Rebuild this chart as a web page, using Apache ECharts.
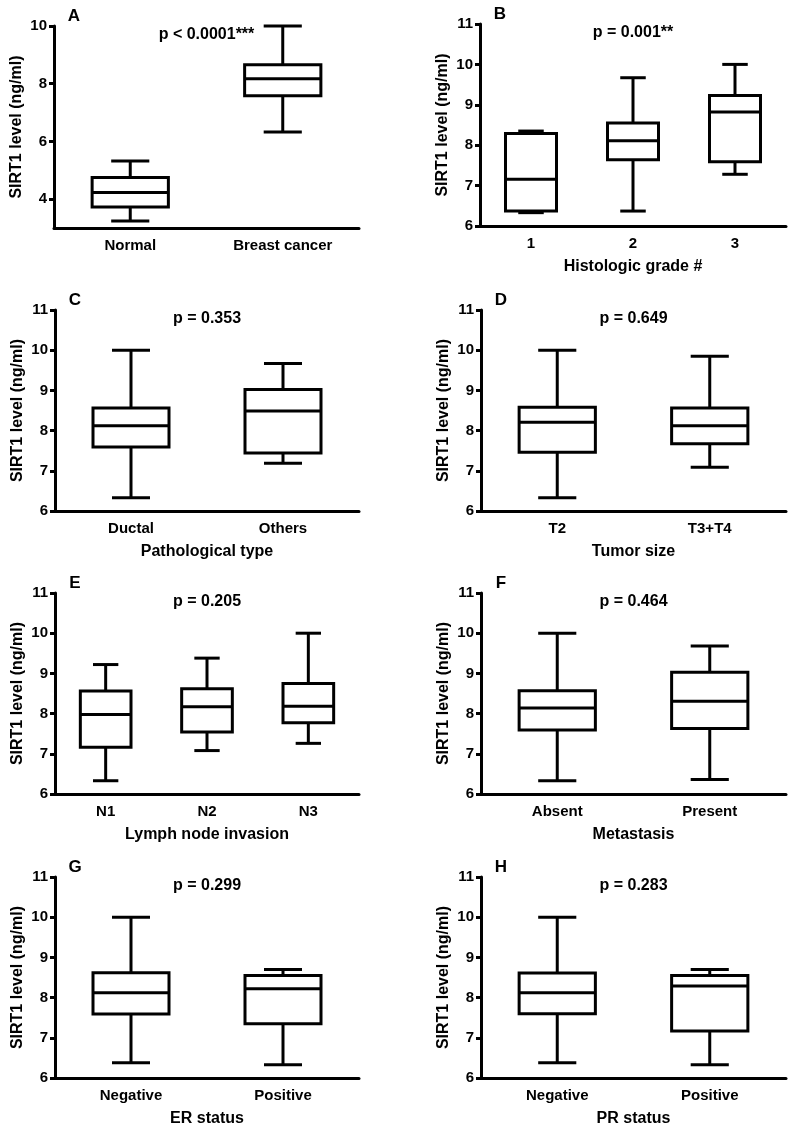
<!DOCTYPE html>
<html><head><meta charset="utf-8">
<script src="https://cdn.jsdelivr.net/npm/echarts@6/dist/echarts.min.js"></script>
<style>html,body{margin:0;padding:0;background:#fff}#c{width:796px;height:1133px}</style>
</head><body><div id="c"></div>
<script>
// ---- data: [min, Q1, median, Q3, max] per category ----
const catA = ['Normal', 'Breast cancer'];
const boxA = [[3.24, 3.73, 4.23, 4.75, 5.32], [6.33, 7.58, 8.17, 8.66, 10.0]];
const catB = ['1', '2', '3'];
const boxB = [[6.33, 6.37, 7.16, 8.29, 8.35], [6.37, 7.64, 8.11, 8.55, 9.67], [7.28, 7.59, 8.82, 9.23, 10.0]];
const catC = ['Ductal', 'Others'];
const boxC = [[6.33, 7.59, 8.12, 8.56, 10.0], [7.19, 7.44, 8.49, 9.02, 9.67]];
const catD = ['T2', 'T3+T4'];
const boxD = [[6.33, 7.46, 8.21, 8.58, 10.0], [7.09, 7.67, 8.12, 8.56, 9.85]];
const catE = ['N1', 'N2', 'N3'];
const boxE = [[6.33, 7.16, 7.98, 8.56, 9.22], [7.08, 7.54, 8.17, 8.62, 9.38], [7.26, 7.77, 8.18, 8.75, 10.0]];
const catF = ['Absent', 'Present'];
const boxF = [[6.33, 7.59, 8.14, 8.57, 10.0], [6.36, 7.63, 8.31, 9.03, 9.68]];
const catG = ['Negative', 'Positive'];
const boxG = [[6.38, 7.59, 8.12, 8.62, 10.0], [6.33, 7.35, 8.22, 8.55, 8.70]];
const catH = ['Negative', 'Positive'];
const boxH = [[6.38, 7.60, 8.12, 8.61, 10.0], [6.33, 7.17, 8.29, 8.55, 8.70]];

const yTicksA = [4, 6, 8, 10];
const yTicksOther = [6, 7, 8, 9, 10, 11];
const yRangeA = [3, 10];
const yRangeOther = [6, 11];

const panelLetters = ['A', 'B', 'C', 'D', 'E', 'F', 'G', 'H'];
const pLabels = ['p < 0.0001***', 'p = 0.001**', 'p = 0.353', 'p = 0.649', 'p = 0.205', 'p = 0.464', 'p = 0.299', 'p = 0.283'];
const xTitles = ['', 'Histologic grade #', 'Pathological type', 'Tumor size', 'Lymph node invasion', 'Metastasis', 'ER status', 'PR status'];
const yTitle = 'SIRT1 level (ng/ml)';

const categories = [catA, catB, catC, catD, catE, catF, catG, catH];
const boxes = [boxA, boxB, boxC, boxD, boxE, boxF, boxG, boxH];

// ---- layout ----
const layout = [
  { left: 54, top: 26, width: 305, height: 202 },
  { left: 480, top: 24, width: 306, height: 202 },
  { left: 55, top: 310, width: 304, height: 201 },
  { left: 481, top: 310, width: 305, height: 201 },
  { left: 55, top: 593, width: 304, height: 201 },
  { left: 481, top: 593, width: 305, height: 201 },
  { left: 55, top: 877, width: 304, height: 201 },
  { left: 481, top: 877, width: 305, height: 201 }
];

const FONT = "'Liberation Sans', Arial, sans-serif";
const LW = 3;

function renderBox(params, api) {
  const idx = api.value(0);
  const lo = api.coord([idx, api.value(1)]);
  const q1 = api.coord([idx, api.value(2)]);
  const med = api.coord([idx, api.value(3)]);
  const q3 = api.coord([idx, api.value(4)]);
  const hi = api.coord([idx, api.value(5)]);
  const band = api.size([1, 0])[0];
  const hw = band * 0.25;
  const cw = band * 0.125;
  const x = lo[0];
  const ls = { stroke: '#000', lineWidth: LW, fill: null };
  return {
    type: 'group',
    children: [
      { type: 'line', shape: { x1: x, y1: q3[1], x2: x, y2: hi[1] }, style: ls },
      { type: 'line', shape: { x1: x, y1: q1[1], x2: x, y2: lo[1] }, style: ls },
      { type: 'line', shape: { x1: x - cw, y1: hi[1], x2: x + cw, y2: hi[1] }, style: ls },
      { type: 'line', shape: { x1: x - cw, y1: lo[1], x2: x + cw, y2: lo[1] }, style: ls },
      { type: 'rect', shape: { x: x - hw, y: q3[1], width: 2 * hw, height: q1[1] - q3[1] },
        style: { fill: '#fff', stroke: '#000', lineWidth: LW, lineJoin: 'miter' } },
      { type: 'line', shape: { x1: x - hw, y1: med[1], x2: x + hw, y2: med[1] }, style: ls }
    ]
  };
}

const grids = [], xAxes = [], yAxes = [], series = [], graphics = [];
for (let i = 0; i < 8; i++) {
  const L = layout[i];
  grids.push({ left: L.left, top: L.top, width: L.width, height: L.height, containLabel: false });
  const isA = i === 0;
  const ticks = isA ? yTicksA : yTicksOther;
  const range = isA ? yRangeA : yRangeOther;
  xAxes.push({
    type: 'category', gridIndex: i, data: categories[i], boundaryGap: true,
    axisLine: { lineStyle: { color: '#000', width: LW } },
    axisTick: { alignWithLabel: true, length: 5, lineStyle: { color: '#000', width: LW } },
    axisLabel: { color: '#000', fontSize: 15, fontWeight: 'bold', fontFamily: FONT, margin: 10, interval: 0 },
    splitLine: { show: false },
    name: xTitles[i], nameLocation: 'middle', nameGap: 33,
    nameTextStyle: { color: '#000', fontSize: 16, fontWeight: 'bold', fontFamily: FONT }
  });
  yAxes.push({
    type: 'value', gridIndex: i, min: range[0], max: range[1],
    axisLine: { show: true, lineStyle: { color: '#000', width: LW } },
    axisTick: { show: true, length: 5, customValues: ticks, lineStyle: { color: '#000', width: LW } },
    axisLabel: { color: '#000', fontSize: 15, fontWeight: 'bold', fontFamily: FONT, margin: 7, customValues: ticks },
    splitLine: { show: false },
    name: yTitle, nameLocation: 'middle', nameGap: 29, nameRotate: 90,
    nameTextStyle: { color: '#000', fontSize: 16, fontWeight: 'bold', fontFamily: FONT }
  });
  series.push({
    type: 'custom', xAxisIndex: i, yAxisIndex: i, clip: false, silent: true,
    data: boxes[i].map((b, j) => [j].concat(b)),
    encode: { x: 0, y: [1, 2, 3, 4, 5] },
    renderItem: renderBox
  });
  graphics.push({
    type: 'text', x: L.left + 20, y: L.top - 10,
    style: { text: panelLetters[i], fill: '#000', font: 'bold 17px ' + FONT, align: 'center', verticalAlign: 'middle' }
  });
  graphics.push({
    type: 'text', x: L.left + L.width / 2, y: L.top + 8.5,
    style: { text: pLabels[i], fill: '#000', font: 'bold 16px ' + FONT, align: 'center', verticalAlign: 'middle' }
  });
}

const chart = echarts.init(document.getElementById('c'), null, { renderer: 'canvas' });
chart.setOption({
  backgroundColor: '#fff',
  animation: false,
  grid: grids, xAxis: xAxes, yAxis: yAxes, series: series, graphic: graphics
});
</script></body></html>
